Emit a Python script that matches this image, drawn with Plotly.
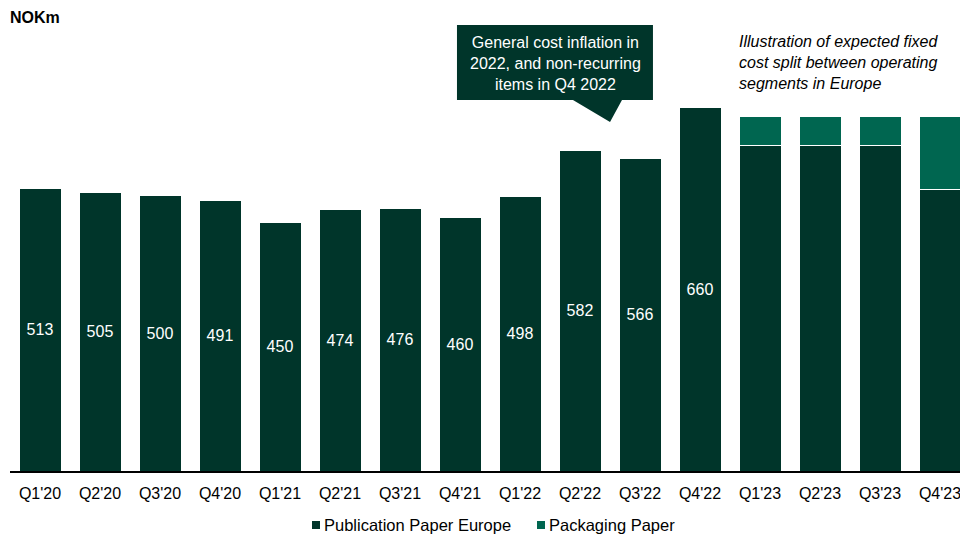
import plotly.graph_objects as go

categories = ["Q1'20", "Q2'20", "Q3'20", "Q4'20", "Q1'21", "Q2'21", "Q3'21", "Q4'21",
              "Q1'22", "Q2'22", "Q3'22", "Q4'22", "Q1'23", "Q2'23", "Q3'23", "Q4'23"]
publication = [513, 505, 500, 491, 450, 474, 476, 460, 498, 582, 566, 660, 591, 591, 591, 511]
packaging = [0, 0, 0, 0, 0, 0, 0, 0, 0, 0, 0, 0, 51, 51, 51, 131]
pub_labels = ["513", "505", "500", "491", "450", "474", "476", "460", "498", "582", "566", "660",
              "", "", "", ""]
series_names = ["Publication Paper Europe", "Packaging Paper"]

DARK = "#00352A"
MID = "#006650"
FONT = "Liberation Sans, Arial, sans-serif"

W, H = 960, 537
OFF = 0  # body margin removed via post_script
# desired screen positions (reference pixels)
PLOT_LEFT_S, BASE_S, TOP_S = 10, 471, 85
L = PLOT_LEFT_S - OFF
R = 0
B = H - (BASE_S - OFF)
T = TOP_S - OFF
YMAX = 700
PX_PER_CAT = 60
XMAX = -0.5 + (W - L - R) / PX_PER_CAT

def px_to_paper(sx, sy):
    fx, fy = sx - OFF, sy - OFF
    pw = W - L - R
    ph = H - T - B
    return (fx - L) / pw, (H - B - fy) / ph

fig = go.Figure()
fig.add_trace(go.Bar(
    x=categories, y=publication, name=series_names[0],
    marker=dict(color=DARK, line=dict(color="white", width=1)),
    text=pub_labels, textposition="inside", insidetextanchor="middle",
    textfont=dict(color="white", size=16, family=FONT),
    width=0.7, showlegend=False,
))
fig.add_trace(go.Bar(
    x=categories, y=packaging, name=series_names[1],
    marker=dict(color=MID, line=dict(color="white", width=1)),
    width=0.7, hoverinfo="skip", showlegend=False,
))

# callout box with pointer
pts = [(457, 25), (653, 25), (653, 100), (622, 100), (610, 122), (573, 100), (457, 100)]
ppts = [px_to_paper(x, y) for x, y in pts]
path = "M " + " L ".join(f"{x:.4f},{y:.4f}" for x, y in ppts) + " Z"
fig.add_shape(type="path", path=path, xref="paper", yref="paper",
              fillcolor=DARK, line=dict(width=0), layer="above")

cx, cy = px_to_paper(555, 63)
fig.add_annotation(x=cx, y=cy, xref="paper", yref="paper", showarrow=False,
                   text="General cost inflation in<br>2022, and non-recurring<br>items in Q4 2022",
                   font=dict(color="white", size=16, family=FONT), align="center",
                   xanchor="center", yanchor="middle")

ix, iy = px_to_paper(737, 62)
fig.add_annotation(x=ix, y=iy, xref="paper", yref="paper", showarrow=False,
                   text="<i>Illustration of expected fixed<br>cost split between operating<br>segments in Europe</i>",
                   font=dict(color="black", size=16, family=FONT), align="left",
                   xanchor="left", yanchor="middle")

nx, ny = px_to_paper(8, 17)
fig.add_annotation(x=nx, y=ny, xref="paper", yref="paper", showarrow=False,
                   text="<b>NOKm</b>", font=dict(color="black", size=16, family=FONT),
                   xanchor="left", yanchor="middle")

# custom legend
legend_items = [(series_names[0], DARK, 312), (series_names[1], MID, 537)]
for name, col, sx in legend_items:
    x0, y0 = px_to_paper(sx, 529)
    x1, y1 = px_to_paper(sx + 8, 521)
    fig.add_shape(type="rect", xref="paper", yref="paper", x0=x0, y0=y0, x1=x1, y1=y1,
                  fillcolor=col, line=dict(width=0))
    tx, ty = px_to_paper(sx + 10, 525)
    fig.add_annotation(x=tx, y=ty, xref="paper", yref="paper", showarrow=False,
                       text=name, font=dict(color="black", size=16.5, family=FONT),
                       xanchor="left", yanchor="middle")

fig.update_layout(
    width=W, height=H, barmode="stack", bargap=0.3,
    margin=dict(l=L, r=R, t=T, b=B),
    plot_bgcolor="white", paper_bgcolor="white",
    font=dict(family=FONT, size=16, color="black"),
    showlegend=False,
)
fig.update_xaxes(range=[-0.5, XMAX], showline=True, linecolor="black", linewidth=1.5,
                 ticks="", ticklabelstandoff=7,
                 tickfont=dict(size=16, family=FONT, color="black"),
                 showgrid=False, fixedrange=True)
fig.update_yaxes(range=[0, YMAX], visible=False, showgrid=False, fixedrange=True)

fig.write_html("out.html",
               config={"displayModeBar": False, "staticPlot": True},
               post_script="document.body.style.margin='0';document.body.style.overflow='hidden';")
